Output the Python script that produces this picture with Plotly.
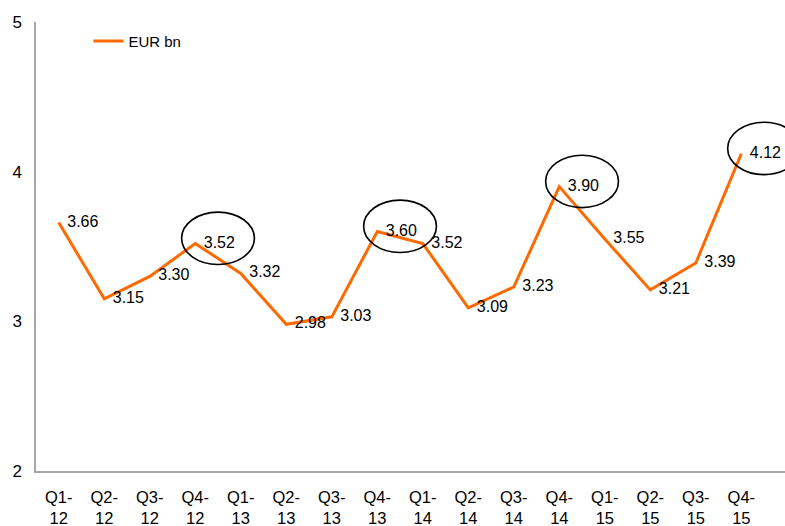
import plotly.graph_objects as go

quarters = ["Q1-<br>12", "Q2-<br>12", "Q3-<br>12", "Q4-<br>12",
            "Q1-<br>13", "Q2-<br>13", "Q3-<br>13", "Q4-<br>13",
            "Q1-<br>14", "Q2-<br>14", "Q3-<br>14", "Q4-<br>14",
            "Q1-<br>15", "Q2-<br>15", "Q3-<br>15", "Q4-<br>15"]
eur_bn = [3.66, 3.15, 3.30, 3.52, 3.32, 2.98, 3.03, 3.60,
          3.52, 3.09, 3.23, 3.90, 3.55, 3.21, 3.39, 4.12]
highlight_idx = [3, 7, 11, 15]

FONT = "Liberation Sans, Arial, sans-serif"
ORANGE = "#FF6A00"

fig = go.Figure()
fig.add_trace(go.Scatter(
    x=list(range(len(quarters))), y=eur_bn, name="EUR bn",
    mode="lines+markers+text",
    line=dict(color=ORANGE, width=3),
    marker=dict(size=12, color="rgba(0,0,0,0)"),
    text=[f"{v:.2f}" for v in eur_bn],
    textposition="middle right",
    textfont=dict(family=FONT, size=16, color="#000000"),
    cliponaxis=False,
))

for i in highlight_idx:
    v = eur_bn[i]
    fig.add_shape(type="circle", xref="x", yref="y",
                  x0=i - 0.30, x1=i + 1.30, y0=v - 0.14, y1=v + 0.21,
                  line=dict(color="#000000", width=1.6), layer="above")

fig.update_layout(
    width=785, height=526,
    margin=dict(l=36, r=0, t=22, b=55),
    paper_bgcolor="white", plot_bgcolor="white",
    font=dict(family=FONT, size=15, color="#000000"),
    showlegend=True,
    legend=dict(x=0.07, y=0.994, xanchor="left", yanchor="top",
                bgcolor="rgba(0,0,0,0)", font=dict(size=15, family=FONT)),
    xaxis=dict(
        tickmode="array", tickvals=list(range(len(quarters))), ticktext=quarters,
        range=[-0.5, len(quarters) - 0.04],
        showgrid=False, zeroline=False, showline=True,
        linecolor="#A6A6A6", linewidth=1.5, ticks="",
        tickfont=dict(size=16.5, family=FONT), automargin=False,
        ticklabelstandoff=10,
    ),
    yaxis=dict(
        range=[2, 5], tickvals=[2, 3, 4, 5],
        showgrid=False, zeroline=False, showline=True,
        linecolor="#A6A6A6", linewidth=1.5, ticks="",
        tickfont=dict(size=17, family=FONT), ticklabelstandoff=9,
        automargin=False,
    ),
)

fig.write_html("out.html",
               config={"displayModeBar": False},
               post_script="document.body.style.margin='0px';document.body.style.overflow='hidden';")
